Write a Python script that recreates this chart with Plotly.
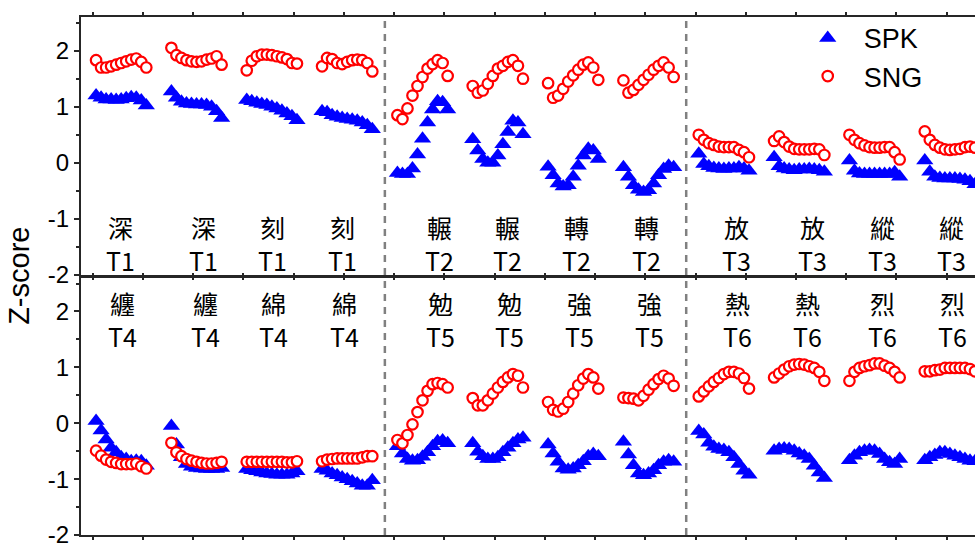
import plotly.graph_objects as go

# ---- data: z-scored contours, 11 samples per syllable token ----
# top panel: tones T1-T3, bottom panel: tones T4-T6 (4 tokens per tone)
chars_top = ["深", "深", "刻", "刻", "輾", "輾", "轉", "轉", "放", "放", "縱", "縱"]
tones_top = ["T1"] * 4 + ["T2"] * 4 + ["T3"] * 4
chars_bottom = ["纏", "纏", "綿", "綿", "勉", "勉", "強", "強", "熱", "熱", "烈", "烈"]
tones_bottom = ["T4"] * 4 + ["T5"] * 4 + ["T6"] * 4

spk_t1 = [
    [1.20, 1.16, 1.13, 1.13, 1.12, 1.13, 1.15, 1.17, 1.16, 1.11, 1.02],
    [1.27, 1.16, 1.09, 1.06, 1.05, 1.04, 1.04, 1.03, 1.00, 0.92, 0.80],
    [1.12, 1.10, 1.07, 1.05, 1.03, 1.00, 0.97, 0.93, 0.88, 0.83, 0.76],
    [0.92, 0.90, 0.85, 0.82, 0.80, 0.78, 0.77, 0.75, 0.72, 0.67, 0.60],
]
sng_t1 = [
    [1.83, 1.70, 1.70, 1.72, 1.75, 1.78, 1.81, 1.84, 1.86, 1.80, 1.70],
    [2.05, 1.92, 1.87, 1.83, 1.81, 1.80, 1.81, 1.84, 1.86, 1.90, 1.75],
    [1.65, 1.82, 1.90, 1.93, 1.93, 1.92, 1.90, 1.88, 1.85, 1.78, 1.77],
    [1.72, 1.87, 1.85, 1.78, 1.76, 1.80, 1.83, 1.84, 1.83, 1.78, 1.63],
]
spk_t2 = [
    [-0.18, -0.20, -0.20, -0.10, 0.15, 0.43, 0.72, 0.95, 1.10, 1.08, 0.95],
    [0.42, 0.22, 0.07, 0.00, 0.00, 0.13, 0.33, 0.55, 0.75, 0.72, 0.51],
    [-0.07, -0.22, -0.37, -0.42, -0.40, -0.25, -0.05, 0.13, 0.25, 0.22, 0.07],
    [-0.08, -0.25, -0.40, -0.48, -0.52, -0.49, -0.37, -0.22, -0.11, -0.05, -0.08],
]
sng_t2 = [
    [0.85, 0.78, 0.97, 1.20, 1.37, 1.53, 1.68, 1.76, 1.83, 1.78, 1.55],
    [1.37, 1.25, 1.29, 1.41, 1.55, 1.68, 1.73, 1.80, 1.83, 1.73, 1.50],
    [1.42, 1.16, 1.20, 1.32, 1.45, 1.56, 1.66, 1.75, 1.79, 1.70, 1.48],
    [1.47, 1.25, 1.30, 1.39, 1.48, 1.57, 1.66, 1.73, 1.79, 1.70, 1.53],
]
spk_t3 = [
    [0.16, -0.02, -0.06, -0.09, -0.10, -0.11, -0.10, -0.10, -0.08, -0.10, -0.14],
    [0.10, -0.06, -0.10, -0.12, -0.13, -0.12, -0.12, -0.11, -0.12, -0.13, -0.16],
    [0.04, -0.14, -0.19, -0.20, -0.20, -0.20, -0.20, -0.20, -0.20, -0.17, -0.25],
    [0.04, -0.16, -0.25, -0.27, -0.28, -0.28, -0.28, -0.29, -0.30, -0.33, -0.38],
]
sng_t3 = [
    [0.50, 0.41, 0.35, 0.32, 0.29, 0.28, 0.28, 0.28, 0.23, 0.19, 0.10],
    [0.39, 0.47, 0.37, 0.29, 0.25, 0.24, 0.24, 0.24, 0.25, 0.24, 0.14],
    [0.50, 0.41, 0.35, 0.31, 0.28, 0.27, 0.27, 0.28, 0.28, 0.19, 0.06],
    [0.56, 0.41, 0.32, 0.27, 0.24, 0.23, 0.24, 0.25, 0.28, 0.29, 0.27],
]
spk_t4 = [
    [0.04, -0.13, -0.29, -0.44, -0.52, -0.61, -0.64, -0.68, -0.67, -0.68, -0.76],
    [-0.05, -0.38, -0.61, -0.73, -0.78, -0.80, -0.81, -0.82, -0.82, -0.82, -0.80],
    [-0.82, -0.84, -0.86, -0.88, -0.90, -0.91, -0.92, -0.92, -0.92, -0.90, -0.86],
    [-0.82, -0.85, -0.90, -0.93, -0.97, -1.00, -1.04, -1.08, -1.12, -1.12, -1.02],
]
sng_t4 = [
    [-0.49, -0.58, -0.65, -0.69, -0.71, -0.73, -0.73, -0.73, -0.72, -0.77, -0.81],
    [-0.35, -0.52, -0.59, -0.64, -0.67, -0.69, -0.71, -0.72, -0.72, -0.71, -0.69],
    [-0.69, -0.69, -0.69, -0.69, -0.69, -0.69, -0.69, -0.69, -0.70, -0.70, -0.68],
    [-0.68, -0.65, -0.64, -0.63, -0.63, -0.63, -0.63, -0.63, -0.61, -0.59, -0.59],
]
spk_t5 = [
    [-0.41, -0.54, -0.64, -0.67, -0.66, -0.60, -0.52, -0.41, -0.32, -0.31, -0.36],
    [-0.36, -0.51, -0.59, -0.64, -0.64, -0.61, -0.52, -0.44, -0.36, -0.29, -0.26],
    [-0.38, -0.54, -0.69, -0.81, -0.83, -0.81, -0.75, -0.68, -0.59, -0.55, -0.59],
    [-0.33, -0.56, -0.75, -0.90, -0.93, -0.90, -0.84, -0.75, -0.69, -0.66, -0.69],
]
sng_t5 = [
    [-0.30, -0.36, -0.21, -0.02, 0.20, 0.41, 0.58, 0.70, 0.72, 0.70, 0.64],
    [0.45, 0.32, 0.32, 0.41, 0.53, 0.64, 0.74, 0.82, 0.88, 0.85, 0.64],
    [0.38, 0.24, 0.21, 0.26, 0.38, 0.53, 0.68, 0.80, 0.88, 0.82, 0.62],
    [0.46, 0.45, 0.44, 0.41, 0.49, 0.60, 0.70, 0.79, 0.85, 0.80, 0.67],
]
spk_t6 = [
    [-0.14, -0.20, -0.35, -0.42, -0.46, -0.48, -0.52, -0.61, -0.73, -0.85, -0.92],
    [-0.49, -0.46, -0.45, -0.46, -0.49, -0.54, -0.58, -0.64, -0.76, -0.88, -0.98],
    [-0.66, -0.58, -0.52, -0.49, -0.48, -0.49, -0.55, -0.64, -0.70, -0.73, -0.64],
    [-0.66, -0.61, -0.57, -0.52, -0.52, -0.55, -0.58, -0.61, -0.64, -0.67, -0.68],
]
sng_t6 = [
    [0.48, 0.57, 0.66, 0.74, 0.81, 0.88, 0.92, 0.92, 0.89, 0.81, 0.62],
    [0.82, 0.89, 0.96, 1.02, 1.05, 1.06, 1.05, 1.02, 0.99, 0.92, 0.76],
    [0.76, 0.92, 0.99, 1.02, 1.04, 1.07, 1.07, 1.03, 0.99, 0.92, 0.82],
    [0.93, 0.93, 0.95, 0.96, 0.99, 0.99, 0.99, 0.99, 0.99, 0.97, 0.93],
]

# horizontal position of each token's label (sample-index units)
label_x_top = [4.8, 21.3, 35.2, 49.0, 68.3, 82.0, 95.7, 109.6, 127.5, 142.7, 156.6, 170.4]
label_x_bottom = [5.2, 21.7, 35.4, 49.4, 68.5, 82.4, 96.3, 110.1, 127.8, 141.7, 156.6, 170.6]
tone_boundaries = [57.5, 117.5]

GROUP_STRIDE = 15          # samples per token slot (11 points + gap)
X_RANGE = [-3, 175]
Y_RANGE = [-2, 2.6]

BLUE = "rgb(0,0,255)"
RED = "rgb(255,0,0)"
AXIS_COLOR = "#262626"
TICK_FONT = dict(family="Liberation Sans, Arial, sans-serif", size=24, color="black")
CJK_FONT = dict(family="Noto Sans CJK TC, Noto Sans CJK SC, sans-serif", size=25, color="black")


def flatten(*tone_groups):
    xs, ys = [], []
    g = 0
    for groups in tone_groups:
        for vals in groups:
            for j, v in enumerate(vals):
                xs.append(g * GROUP_STRIDE + j)
                ys.append(v)
            g += 1
    return xs, ys


spk_marker = dict(symbol="triangle-up", size=15, color=BLUE, line=dict(width=0))
sng_marker = dict(symbol="circle", size=10.5, color="white", line=dict(color=RED, width=2.2))

fig = go.Figure()
panels = [
    ("x", "y", (spk_t1, spk_t2, spk_t3), (sng_t1, sng_t2, sng_t3), True),
    ("x2", "y2", (spk_t4, spk_t5, spk_t6), (sng_t4, sng_t5, sng_t6), False),
]
for xa, ya, spk, sng, show in panels:
    sx, sy = flatten(*spk)
    cx, cy = flatten(*sng)
    fig.add_trace(go.Scatter(x=sx, y=sy, mode="markers", marker=spk_marker, name="SPK",
                             legendgroup="SPK", showlegend=show, xaxis=xa, yaxis=ya))
    fig.add_trace(go.Scatter(x=cx, y=cy, mode="markers", marker=sng_marker, name="SNG",
                             legendgroup="SNG", showlegend=show, xaxis=xa, yaxis=ya))

# token labels: character above its tone name
annotations = []
for xs, chars, tones, xref, yref, y_mid in [
    (label_x_top, chars_top, tones_top, "x", "y", -1.43),
    (label_x_bottom, chars_bottom, tones_bottom, "x2", "y2", 1.86),
]:
    for x, c, t in zip(xs, chars, tones):
        annotations.append(dict(x=x, y=y_mid, xref=xref, yref=yref, text=f"{c}<br>{t}",
                                showarrow=False, font=CJK_FONT, align="center",
                                xanchor="center", yanchor="middle"))

annotations.append(dict(x=-0.0695, y=0.5, xref="paper", yref="paper", text="Z-score",
                        textangle=-90, showarrow=False, xanchor="center", yanchor="middle",
                        font=dict(family="Liberation Sans, Arial, sans-serif", size=29, color="black")))

shapes = [dict(type="line", xref="x", yref="paper", x0=b, x1=b, y0=0, y1=1,
               line=dict(color="#808080", width=2.5, dash="7px,6px"), layer="below")
          for b in tone_boundaries]

xaxis_common = dict(range=X_RANGE, showgrid=False, zeroline=False, showline=True,
                    linecolor=AXIS_COLOR, linewidth=2, mirror="ticks", ticks="outside",
                    ticklen=3, tickwidth=1.5, tickcolor=AXIS_COLOR, tick0=-0.65, dtick=10,
                    showticklabels=False)
yaxis_common = dict(range=Y_RANGE, showgrid=False, zeroline=False, showline=True,
                    linecolor=AXIS_COLOR, linewidth=2, mirror=False, ticks="outside",
                    ticklen=5, tickwidth=1.5, tickcolor=AXIS_COLOR,
                    tickvals=[-2, -1, 0, 1, 2], ticktext=["-2", "-1", "0", "1", "2"],
                    tickfont=TICK_FONT, ticklabeloverflow="allow",
                    minor=dict(tickvals=[-1.5, -0.5, 0.5, 1.5, 2.5], ticks="outside",
                               ticklen=3, tickwidth=1.5, tickcolor=AXIS_COLOR))

fig.update_layout(
    width=975, height=548,
    margin=dict(l=81, r=0, t=17, b=7),
    paper_bgcolor="white", plot_bgcolor="white",
    xaxis=dict(domain=[0, 1], anchor="y", **xaxis_common),
    yaxis=dict(domain=[0.5019, 1], anchor="x", **yaxis_common),
    xaxis2=dict(domain=[0, 1], anchor="y2", **xaxis_common),
    yaxis2=dict(domain=[0, 0.4962], anchor="x2", **yaxis_common),
    legend=dict(x=0.795, y=1.006, xanchor="left", yanchor="top", bgcolor="rgba(0,0,0,0)",
                font=dict(family="Liberation Sans, Arial, sans-serif", size=27, color="black"),
                itemwidth=62, tracegroupgap=0),
    annotations=annotations,
    shapes=shapes,
)

fig.write_html("out.html")
